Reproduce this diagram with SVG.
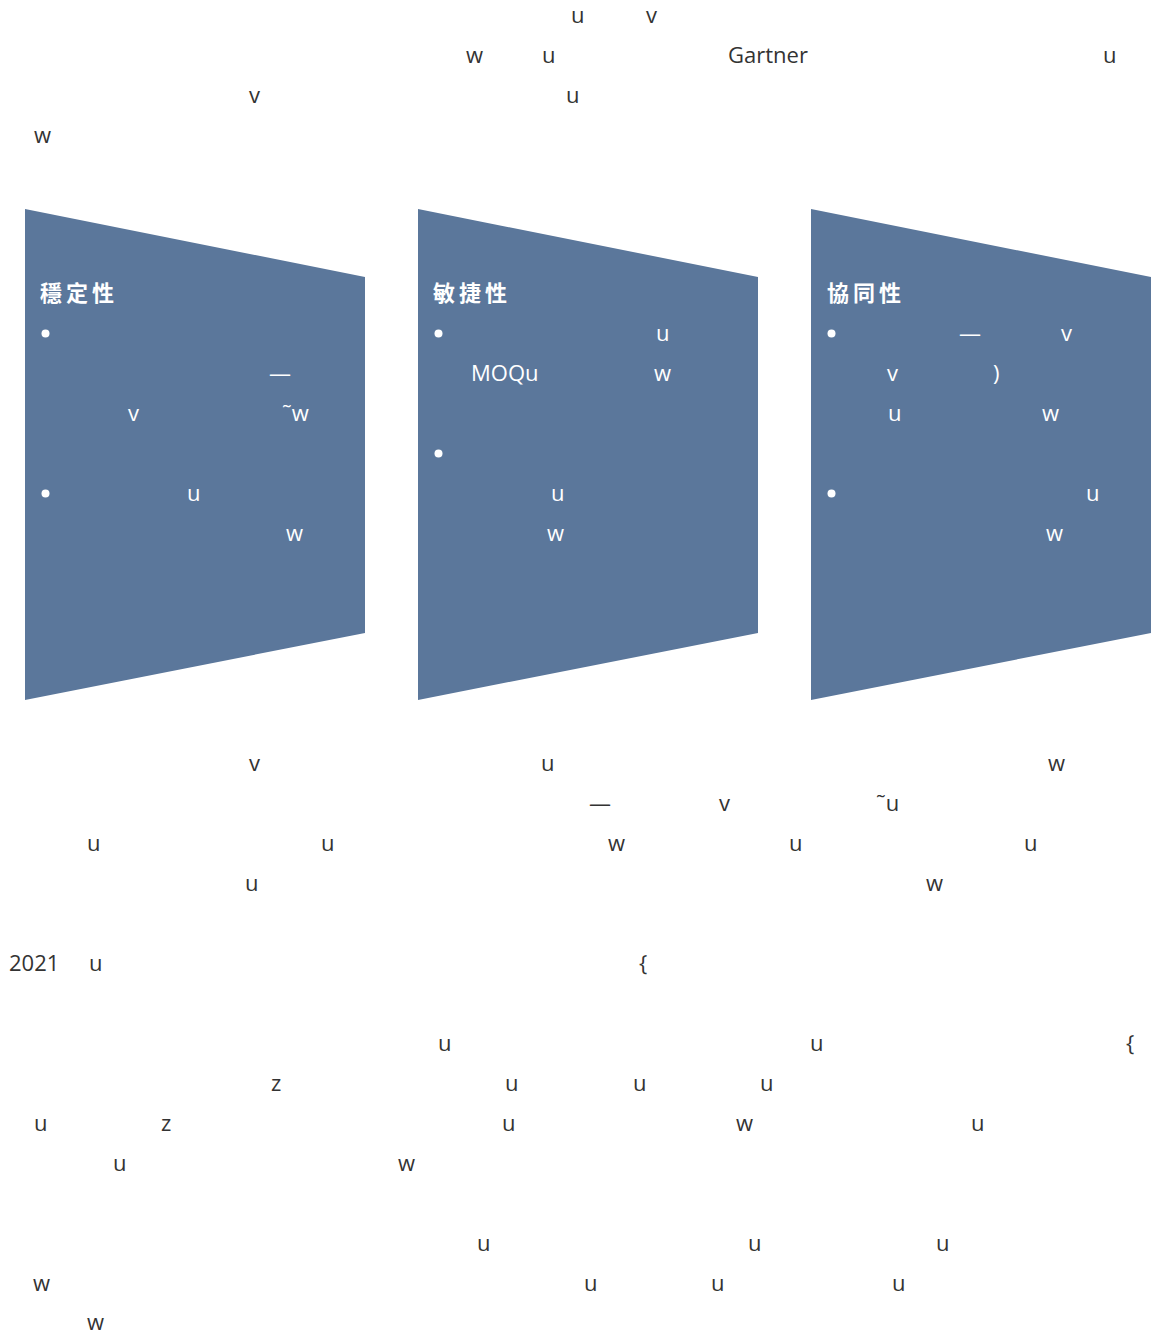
<svg xmlns="http://www.w3.org/2000/svg" width="1165" height="1333" viewBox="0 0 1165 1333">
<style>
.t{font-family:"Open Sans","Liberation Sans","Noto Sans CJK TC",sans-serif;font-size:22px;fill:#333333}
.w{font-family:"Open Sans","Liberation Sans","Noto Sans CJK TC",sans-serif;font-size:22px;fill:#ffffff}
.h{font-family:"Noto Sans CJK TC","Noto Sans CJK SC",sans-serif;font-size:22px;font-weight:bold;fill:#ffffff;letter-spacing:4px}
.s{fill:#5b779b}
.b{fill:#ffffff}
</style>
<rect width="1165" height="1333" fill="#ffffff"/>
<g id="intro">
<text class="t" x="571" y="23">u</text><text class="t" x="646" y="23">v</text>
<text class="t" x="466" y="63">w</text><text class="t" x="542" y="63">u</text><text class="t" x="728" y="63">Gartner</text><text class="t" x="1103" y="63">u</text>
<text class="t" x="249" y="103">v</text><text class="t" x="566" y="103">u</text>
<text class="t" x="34" y="143">w</text>
</g>
<g id="node-stability">
<polygon class="s" points="25,209 365,277 365,633 25,700"/>
<text class="h" x="40" y="301">穩定性</text>
<circle class="b" cx="45.5" cy="333.5" r="4"/>
<text class="w" x="269" y="381">—</text>
<text class="w" x="128" y="421">v</text><text class="w" x="282" y="421">˜w</text>
<circle class="b" cx="45.5" cy="493.5" r="4"/>
<text class="w" x="187" y="501">u</text>
<text class="w" x="286" y="541">w</text>
</g>
<g id="node-agility">
<polygon class="s" points="418,209 758,277 758,633 418,700"/>
<text class="h" x="433" y="301">敏捷性</text>
<circle class="b" cx="438.5" cy="333.5" r="4"/>
<text class="w" x="656" y="341">u</text>
<text class="w" x="471" y="381">MOQu</text><text class="w" x="654" y="381">w</text>
<circle class="b" cx="438.5" cy="453.5" r="4"/>
<text class="w" x="551" y="501">u</text>
<text class="w" x="547" y="541">w</text>
</g>
<g id="node-collaboration">
<polygon class="s" points="811,209 1151,277 1151,633 811,700"/>
<text class="h" x="827" y="301">協同性</text>
<circle class="b" cx="831.5" cy="333.5" r="4"/>
<text class="w" x="959" y="341">—</text><text class="w" x="1061" y="341">v</text>
<text class="w" x="887" y="381">v</text><text class="w" x="993" y="381">)</text>
<text class="w" x="888" y="421">u</text><text class="w" x="1042" y="421">w</text>
<circle class="b" cx="831.5" cy="493.5" r="4"/>
<text class="w" x="1086" y="501">u</text>
<text class="w" x="1046" y="541">w</text>
</g>
<g id="connectors"></g>
<g id="body">
<text class="t" x="249" y="771">v</text><text class="t" x="541" y="771">u</text><text class="t" x="1048" y="771">w</text>
<text class="t" x="589" y="811">—</text><text class="t" x="719" y="811">v</text><text class="t" x="876" y="811">˜u</text>
<text class="t" x="87" y="851">u</text><text class="t" x="321" y="851">u</text><text class="t" x="608" y="851">w</text><text class="t" x="789" y="851">u</text><text class="t" x="1024" y="851">u</text>
<text class="t" x="245" y="891">u</text><text class="t" x="926" y="891">w</text>
<text class="t" x="9" y="971">2021</text><text class="t" x="89" y="971">u</text><text class="t" x="639" y="971">{</text>
<text class="t" x="438" y="1051">u</text><text class="t" x="810" y="1051">u</text><text class="t" x="1126" y="1051">{</text>
<text class="t" x="271" y="1091">z</text><text class="t" x="505" y="1091">u</text><text class="t" x="633" y="1091">u</text><text class="t" x="760" y="1091">u</text>
<text class="t" x="34" y="1131">u</text><text class="t" x="161" y="1131">z</text><text class="t" x="502" y="1131">u</text><text class="t" x="736" y="1131">w</text><text class="t" x="971" y="1131">u</text>
<text class="t" x="113" y="1171">u</text><text class="t" x="398" y="1171">w</text>
<text class="t" x="477" y="1251">u</text><text class="t" x="748" y="1251">u</text><text class="t" x="936" y="1251">u</text>
<text class="t" x="33" y="1291">w</text><text class="t" x="584" y="1291">u</text><text class="t" x="711" y="1291">u</text><text class="t" x="892" y="1291">u</text>
<text class="t" x="87" y="1330">w</text>
</g>
</svg>
